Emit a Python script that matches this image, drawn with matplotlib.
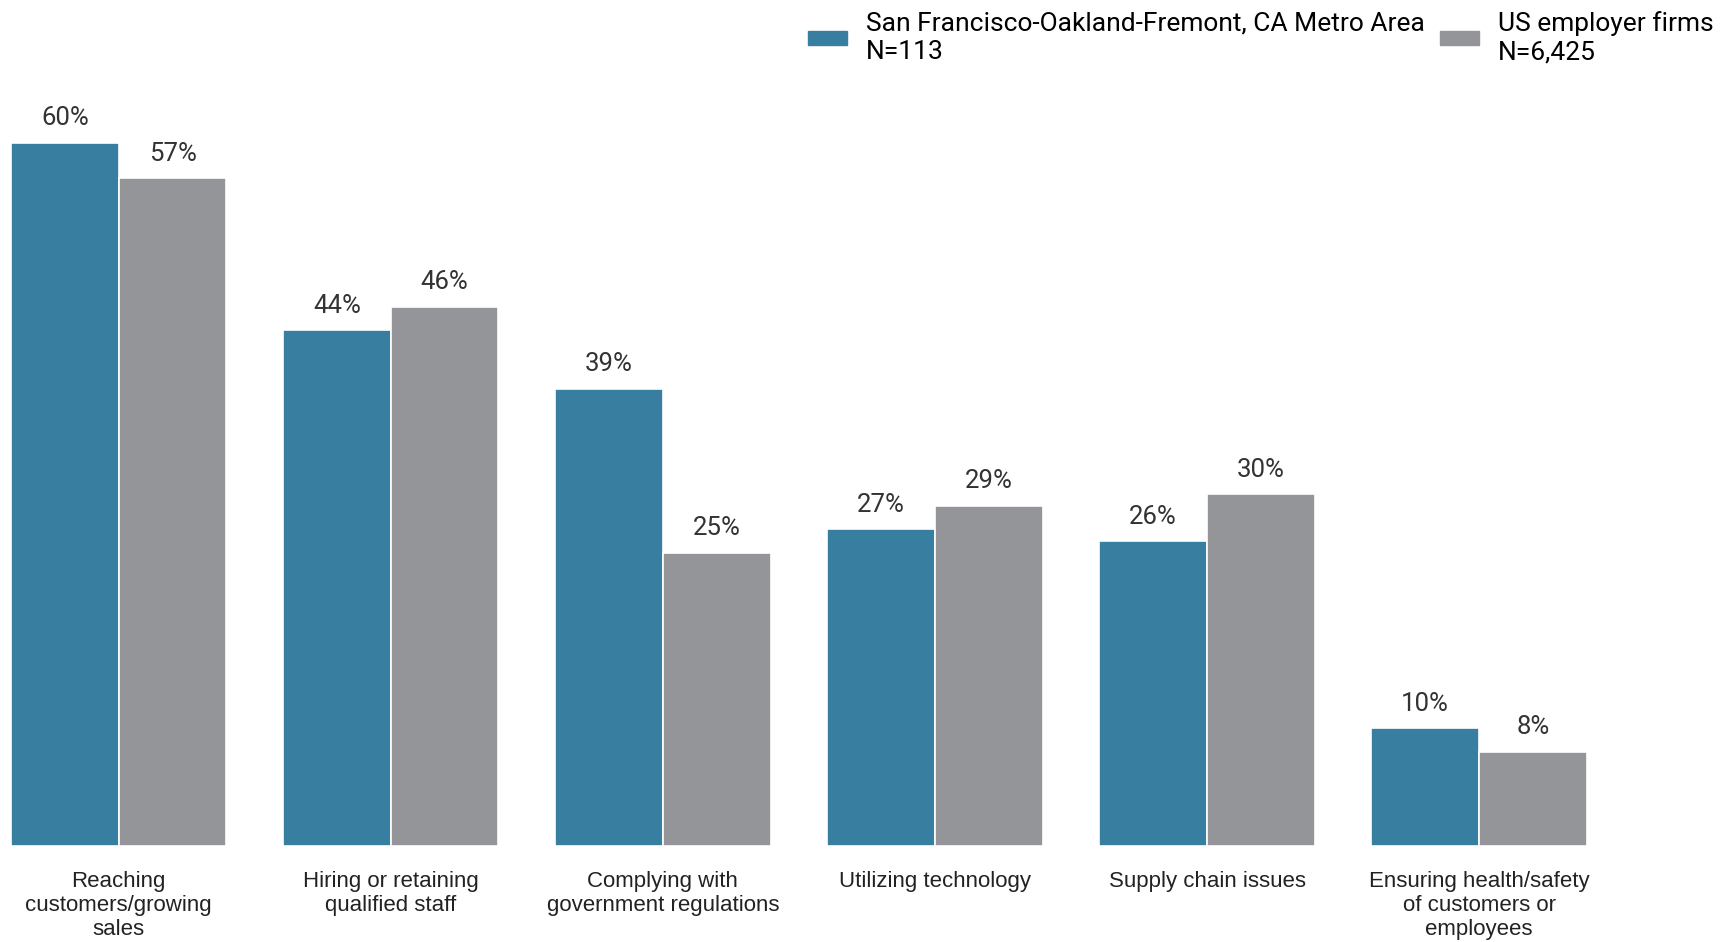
import matplotlib.pyplot as plt
import numpy as np
from matplotlib.patches import Patch

categories = [
    "Reaching\ncustomers/growing\nsales",
    "Hiring or retaining\nqualified staff",
    "Complying with\ngovernment regulations",
    "Utilizing technology",
    "Supply chain issues",
    "Ensuring health/safety\nof customers or\nemployees",
]
metro_values = [60, 44, 39, 27, 26, 10]
us_values = [57, 46, 25, 29, 30, 8]
series_labels = ["San Francisco-Oakland-Fremont, CA Metro Area\nN=113", "US employer firms\nN=6,425"]

blue = "#387ea0"
gray = "#949598"

fig = plt.figure(figsize=(17.24, 9.42), dpi=100)
ax = fig.add_axes([0, 0.1024, 1, 0.8702])

x = np.arange(len(categories))
w = 0.396
b1 = ax.bar(x - w / 2, metro_values, w, color=blue, edgecolor="white", linewidth=1.2)
b2 = ax.bar(x + w / 2, us_values, w, color=gray, edgecolor="white", linewidth=1.2)

for bars, vals in ((b1, metro_values), (b2, us_values)):
    for bar, v in zip(bars, vals):
        ax.annotate(f"{v}%", (bar.get_x() + bar.get_width() / 2, v),
                    xytext=(0, 9), textcoords="offset points",
                    ha="center", va="bottom", fontsize=18.5, family="Roboto", color="#333333")

ax.set_xlim(-0.436, 5.90)
ax.set_ylim(0, 70)
ax.set_xticks(x)
ax.set_xticklabels(categories, fontsize=16, family="Liberation Sans", color="#222222",
                   linespacing=1.2)
ax.tick_params(axis="x", length=0, pad=18)
ax.set_yticks([])
for s in ax.spines.values():
    s.set_visible(False)

handles = [Patch(color=blue), Patch(color=gray)]
fig.legend(handles, series_labels, loc="upper right", bbox_to_anchor=(0.994, 0.988),
           ncol=2, frameon=False, prop={"family": "Roboto", "size": 19},
           borderpad=0, borderaxespad=0, labelspacing=0.3,
           handlelength=1.48, handleheight=0.45, handletextpad=0.72, columnspacing=0.57)

fig.savefig("out.png", dpi=100)
